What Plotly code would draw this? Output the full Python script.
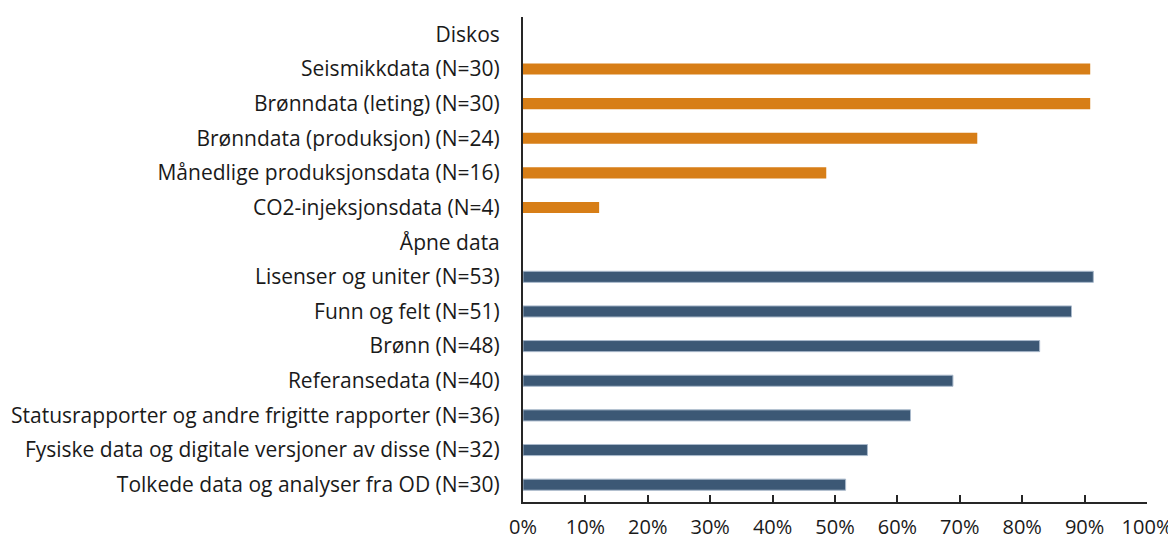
import plotly.graph_objects as go

categories = [
    "Diskos",
    "Seismikkdata (N=30)",
    "Brønndata (leting) (N=30)",
    "Brønndata (produksjon) (N=24)",
    "Månedlige produksjonsdata (N=16)",
    "CO2-injeksjonsdata (N=4)",
    "Åpne data",
    "Lisenser og uniter (N=53)",
    "Funn og felt (N=51)",
    "Brønn (N=48)",
    "Referansedata (N=40)",
    "Statusrapporter og andre frigitte rapporter (N=36)",
    "Fysiske data og digitale versjoner av disse (N=32)",
    "Tolkede data og analyser fra OD (N=30)",
]

header_labels = ["Diskos", "Åpne data"]
header_values = [0, 0]

diskos_labels = categories[1:6]
diskos_values = [0.909, 0.909, 0.728, 0.486, 0.122]

open_labels = categories[7:]
open_values = [0.914, 0.879, 0.828, 0.689, 0.621, 0.552, 0.517]

tick_vals = [0, 0.1, 0.2, 0.3, 0.4, 0.5, 0.6, 0.7, 0.8, 0.9, 1.0]
tick_text = ["0%", "10%", "20%", "30%", "40%", "50%", "60%", "70%", "80%", "90%", "100%"]

FONT = "Open Sans, Calibri, sans-serif"
TXT = "#1a1a1a"

fig = go.Figure()
fig.add_trace(go.Bar(
    x=header_values, y=header_labels, orientation="h",
    marker=dict(color="rgba(0,0,0,0)", line=dict(width=0)),
    width=0.32, showlegend=False, hoverinfo="skip",
))
fig.add_trace(go.Bar(
    x=diskos_values, y=diskos_labels, orientation="h",
    marker=dict(color="#D77E17", line=dict(width=0)),
    width=0.32, showlegend=False,
))
fig.add_trace(go.Bar(
    x=open_values, y=open_labels, orientation="h",
    marker=dict(color="#3C5875", line=dict(color="#A9B9CB", width=1)),
    width=0.32, showlegend=False,
))

# page body has an 8px margin, so offsets are compensated here
fig.update_layout(
    width=1176, height=540,
    margin=dict(l=515, r=37, t=9, b=46, autoexpand=False),
    paper_bgcolor="white", plot_bgcolor="white",
    barmode="overlay",
    font=dict(family=FONT, size=21, color=TXT),
    xaxis=dict(
        range=[0, 1], tickvals=tick_vals, ticktext=tick_text,
        showgrid=False, zeroline=False,
        showline=True, linecolor="#262626", linewidth=2,
        ticks="inside", ticklen=7, tickwidth=1.5, tickcolor="#262626",
        ticklabelstandoff=6,
        tickfont=dict(family=FONT, size=20, color=TXT),
        fixedrange=True,
    ),
    yaxis=dict(
        type="category", categoryorder="array", categoryarray=categories,
        range=[len(categories) - 0.5, -0.5],
        showgrid=False, zeroline=False,
        showline=True, linecolor="#262626", linewidth=2,
        ticks="", ticklabelstandoff=17,
        tickfont=dict(family=FONT, size=21, color=TXT),
        fixedrange=True,
    ),
)

fig.write_html("out.html")
